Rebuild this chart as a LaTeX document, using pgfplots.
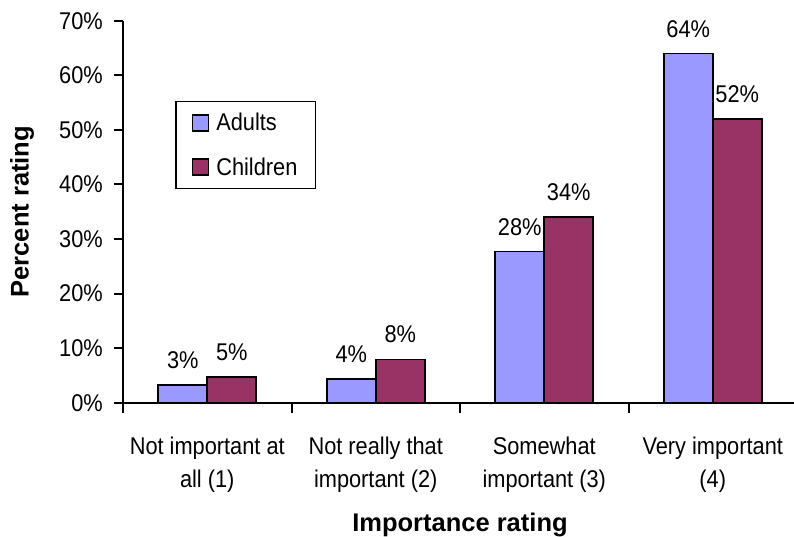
\documentclass[border=0pt]{standalone}
\usepackage{fontspec}
\setmainfont{Liberation Sans}
\newfontfamily\narrowfont[FakeStretch=0.9]{Liberation Sans}
\usepackage{pgfplots}
\pgfplotsset{compat=1.18}
\definecolor{adults}{RGB}{153,153,255}
\definecolor{children}{RGB}{153,51,102}
\newcommand\lblfont{\narrowfont\fontsize{24.2}{33}\selectfont}
\begin{document}
\begin{tikzpicture}[x=1pt,y=1pt]
\useasboundingbox (0,0) rectangle (794,536);
\begin{axis}[
 at={(123pt,133.3pt)}, anchor=south west,
 scale only axis, width=674pt, height=382pt,
 xmin=-0.5, xmax=3.5, ymin=0, ymax=70,
 axis x line=bottom, axis y line=left,
 axis line style={-, line width=2pt, black},
 ybar=0pt, bar width=49pt,
 xtick={0,1,2,3},
 xticklabels={{Not important at\\all (1)},{Not really that\\important (2)},{Somewhat\\important (3)},{Very important\\(4)}},
 major x tick style={draw=none},
 minor xtick={-0.5,0.5,1.5,2.5},
 minor tick length=10pt,
 minor x tick style={black, line width=2pt},
 ytick={0,10,...,70},
 yticklabel={\pgfmathprintnumber{\tick}\%},
 major tick length=9pt,
 tick align=outside,
 major y tick style={black, line width=2pt},
 /pgf/number format/assume math mode=true,
 tick label style={font=\lblfont},
 xticklabel style={align=center, yshift=-21.5pt},
 yticklabel style={xshift=-7.7pt},
 xlabel={Importance rating},
 ylabel={Percent rating},
 label style={font=\bfseries\fontsize{25.5}{30}\selectfont},
 xlabel style={at={(axis description cs:0.5,-0.336)}, anchor=base},
 ylabel style={at={(axis description cs:-0.1266,0.5)}, anchor=south},
 nodes near coords={\pgfmathprintnumber[fixed,precision=0,assume math mode=true]{\pgfplotspointmeta}\%},
 every node near coord/.append style={font=\lblfont, yshift=12pt, black},
 legend style={at={(0.0772,0.7906)}, anchor=north west, draw=black, line width=1.5pt,
   font=\lblfont, inner xsep=16pt, inner ysep=10pt, row sep=21pt, column sep=5pt, legend cell align=left},
 clip=false,
]
\addplot[fill=adults, draw=black, line width=1.6pt,
  legend image code/.code={\draw[fill=adults, draw=black, line width=1.5pt] (0pt,-8pt) rectangle (16pt,8pt);}]
  coordinates {(0,3.2) (1,4.3) (2,27.7) (3,64.0)};
\addplot[fill=children, draw=black, line width=1.6pt,
  legend image code/.code={\draw[fill=children, draw=black, line width=1.5pt] (0pt,-8pt) rectangle (16pt,8pt);}]
  coordinates {(0,4.7) (1,7.95) (2,34.0) (3,52.0)};
\legend{Adults,Children}
\end{axis}
\end{tikzpicture}
\end{document}
